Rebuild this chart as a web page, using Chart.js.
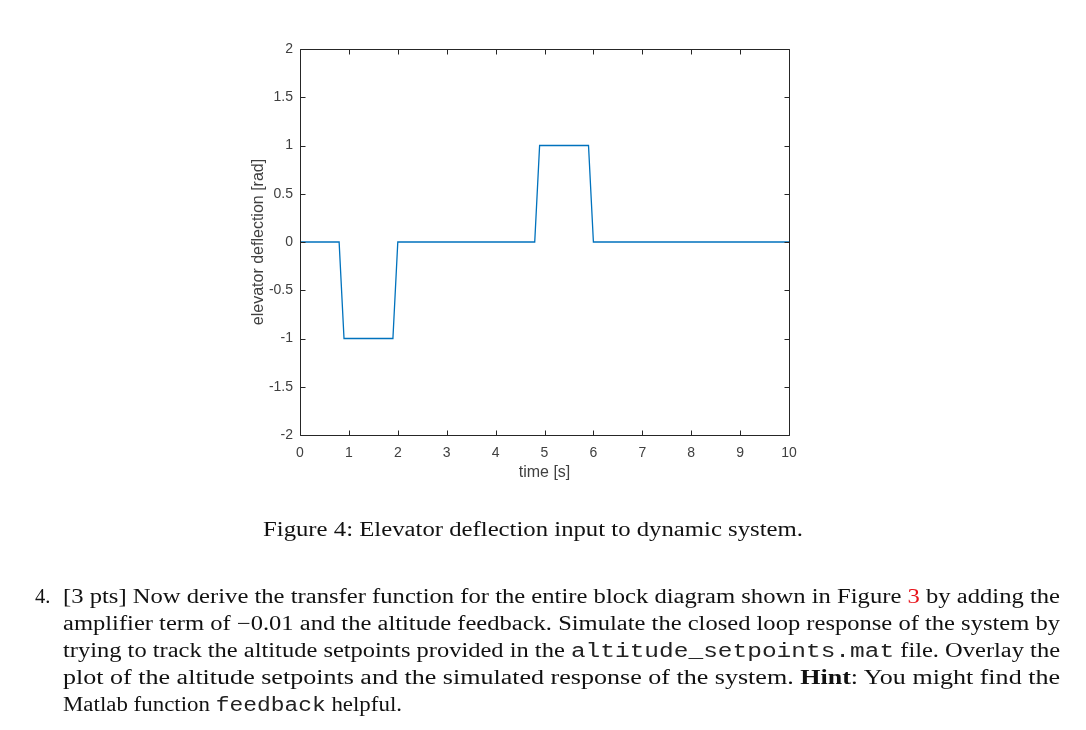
<!DOCTYPE html>
<html>
<head>
<meta charset="utf-8">
<script src="https://cdn.jsdelivr.net/npm/chart.js@4/dist/chart.umd.min.js"></script>
<style>
  html, body { margin: 0; padding: 0; background: #fff; }
  #wrap { position: relative; width: 1086px; height: 730px; overflow: hidden; }
  canvas { position: absolute; left: 0; top: 0; }
  .tx { position: absolute; font-family: "Liberation Serif", "DejaVu Serif", serif; color: #111; white-space: nowrap; font-size: 20.5px; transform-origin: 0 0; }
  .tt { font-family: "Liberation Mono", "DejaVu Sans Mono", monospace; color: #222; }
  .red { color: #e8141c; }
</style>
</head>
<body>
<div id="wrap">
  <canvas id="c" width="1086" height="730"></canvas>
  <div class="tx fit" data-w="540" style="left:263px; top:518px;">Figure 4: Elevator deflection input to dynamic system.</div>
  <div class="tx" style="left:35px; top:585px;">4.</div>
  <div class="tx fit" data-w="997" style="left:63px; top:585px;">[3 pts] Now derive the transfer function for the entire block diagram shown in Figure <span class="red">3</span> by adding the</div>
  <div class="tx fit" data-w="997" style="left:63px; top:612px;">amplifier term of &minus;0.01 and the altitude feedback. Simulate the closed loop response of the system by</div>
  <div class="tx fit" data-w="997" style="left:63px; top:639px;">trying to track the altitude setpoints provided in the <span class="tt">altitude_setpoints.mat</span> file. Overlay the</div>
  <div class="tx fit" data-w="997" style="left:63px; top:666px;">plot of the altitude setpoints and the simulated response of the system. <b>Hint</b>: You might find the</div>
  <div class="tx fit" data-w="339" style="left:63px; top:693px;">Matlab function <span class="tt">feedback</span> helpful.</div>
</div>
<script>
const timeS = [0, 0.8, 0.9, 1.9, 2.0, 4.8, 4.9, 5.9, 6.0, 10];
const deflectionRad = [0, 0, -1, -1, 0, 0, 1, 1, 0, 0];
const xTickValues = [0, 1, 2, 3, 4, 5, 6, 7, 8, 9, 10];
const yTickValues = [-2, -1.5, -1, -0.5, 0, 0.5, 1, 1.5, 2];
const xTitle = 'time [s]';
const yTitle = 'elevator deflection [rad]';

// fit text lines horizontally to the reference widths
document.querySelectorAll('.fit').forEach(el => {
  const w = el.getBoundingClientRect().width;
  const target = parseFloat(el.dataset.w);
  el.style.transform = 'scaleX(' + (target / w) + ')';
});

const points = timeS.map((t, i) => ({ x: t, y: deflectionRad[i] }));
const axisColor = '#262626';
const labelColor = '#404040';
const tickFont = { family: 'Liberation Sans, Arial, sans-serif', size: 14 };
const titleFont = { family: 'Liberation Sans, Arial, sans-serif', size: 16 };

const boxTicks = {
  id: 'boxTicks',
  afterDatasetsDraw(chart) {
    const { ctx, chartArea: a, scales } = chart;
    const L = 5;
    ctx.save();
    ctx.strokeStyle = axisColor;
    ctx.lineWidth = 1;
    ctx.beginPath();
    const l = Math.round(a.left) + 0.5, r = Math.round(a.right) + 0.5;
    const t = Math.round(a.top) + 0.5, b = Math.round(a.bottom) + 0.5;
    ctx.rect(l, t, r - l, b - t);
    scales.x.ticks.forEach(tk => {
      const px = Math.round(scales.x.getPixelForValue(tk.value)) + 0.5;
      ctx.moveTo(px, b); ctx.lineTo(px, b - L);
      ctx.moveTo(px, t); ctx.lineTo(px, t + L);
    });
    scales.y.ticks.forEach(tk => {
      const py = Math.round(scales.y.getPixelForValue(tk.value)) + 0.5;
      ctx.moveTo(l, py); ctx.lineTo(l + L, py);
      ctx.moveTo(r, py); ctx.lineTo(r - L, py);
    });
    ctx.stroke();
    ctx.restore();
  }
};

new Chart(document.getElementById('c'), {
  type: 'scatter',
  data: {
    datasets: [{
      data: points,
      showLine: true,
      borderColor: '#0072BD',
      backgroundColor: '#0072BD',
      borderWidth: 1.3,
      pointRadius: 0,
      tension: 0
    }]
  },
  options: {
    responsive: false,
    animation: false,
    devicePixelRatio: 1,
    layout: { padding: { left: 249, top: 49, right: 297, bottom: 248 } },
    plugins: { legend: { display: false }, tooltip: { enabled: false } },
    scales: {
      x: {
        type: 'linear', min: 0, max: 10,
        afterBuildTicks: s => { s.ticks = xTickValues.map(v => ({ value: v })); },
        afterFit: s => { s.height = 47; },
        grid: { display: false, drawTicks: false, tickLength: 0 },
        border: { display: false },
        ticks: { color: labelColor, font: tickFont, padding: 10, maxRotation: 0, autoSkip: false, callback: v => String(v) },
        title: { display: true, text: xTitle, color: labelColor, font: titleFont, padding: 0 }
      },
      y: {
        type: 'linear', min: -2, max: 2,
        afterBuildTicks: s => { s.ticks = yTickValues.map(v => ({ value: v })); },
        afterFit: s => { s.width = 51; },
        grid: { display: false, drawTicks: false, tickLength: 0 },
        border: { display: false },
        ticks: { color: labelColor, font: tickFont, padding: 7, autoSkip: false, callback: v => String(v) },
        title: { display: true, text: yTitle, color: labelColor, font: titleFont, padding: 0 }
      }
    }
  },
  plugins: [boxTicks]
});
</script>
</body>
</html>
